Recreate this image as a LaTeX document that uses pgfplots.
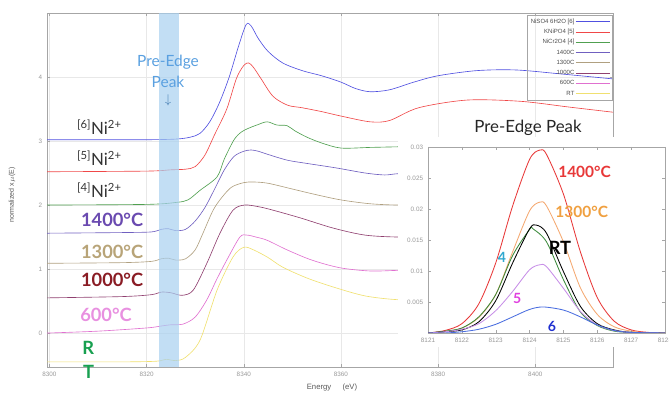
\documentclass[border=0pt]{standalone}
\usepackage{pgfplots}
\pgfplotsset{compat=1.18}
\usepackage{fontspec}
\setmainfont{Liberation Sans}
\newfontfamily\lato{Lato}
\definecolor{cSix}{HTML}{5050E0}
\definecolor{cFive}{HTML}{F04848}
\definecolor{cFour}{HTML}{50A050}
\definecolor{cFourteen}{HTML}{7060C0}
\definecolor{cThirteen}{HTML}{B0A080}
\definecolor{cTen}{HTML}{904070}
\definecolor{cSixH}{HTML}{E070D0}
\definecolor{cRT}{HTML}{F0E070}
\definecolor{band}{HTML}{A8D0F0}
\definecolor{preblue}{HTML}{5AA0E0}
\definecolor{iRed}{HTML}{E83838}
\definecolor{iOrange}{HTML}{F5A870}
\definecolor{iGreen}{HTML}{3C8A3C}
\definecolor{iLav}{HTML}{C890E8}
\definecolor{iBlue}{HTML}{4A6EE0}
\definecolor{lPurple}{HTML}{6A4AB0}
\definecolor{lTan}{HTML}{B8A478}
\definecolor{lMaroon}{HTML}{8A1C24}
\definecolor{lPink}{HTML}{E890E0}
\definecolor{lGreen}{HTML}{18A050}
\definecolor{lOrange}{HTML}{F0A040}
\definecolor{lCyan}{HTML}{30A8D0}
\definecolor{lMag}{HTML}{E040E0}
\definecolor{lBlue}{HTML}{2030D0}
\begin{document}
\begin{tikzpicture}[x=1cm,y=1cm]
\begin{axis}[name=main, at={(1.175cm,0.675cm)}, anchor=south west, scale only axis,
  width=14.15cm, height=8.85cm, xmin=8299.5, xmax=8416, ymin=-0.53, ymax=5,
  xtick={8300,8320,8340,8360,8380,8400}, xticklabels={8300,8320,8340,8360,8380,8400},
  ytick={0,1,2,3,4}, yticklabels={0,1,2,3,4},
  tick label style={font=\fontsize{4.5}{5}\selectfont, text=gray!80},
  axis line style={gray!70}, tick style={gray!70}, major tick length=2pt,
  grid=major, grid style={gray!18, line width=0.3pt},
  every axis plot/.append style={line width=0.45pt, smooth},
  legend style={at={(1,0.994)}, anchor=north east, draw=gray!70, fill=none,
    font=\fontsize{4.3}{4.3}\selectfont, text=gray!60!black, row sep=2.3pt, inner sep=2pt,
    nodes={inner sep=0.6pt, text height=3pt, text depth=0.8pt},
    cells={anchor=east}},
  legend plot pos=right,
  legend image code/.code={\draw[#1] (0cm,0cm) -- (0.85cm,0cm);},
]
\addplot[cSix] coordinates {(8299.5,3.02)(8310,3.02)(8320,3.02)(8326,3.03)(8329,3.06)(8331,3.12)(8333,3.3)(8335,3.6)(8337,4.0)(8339,4.5)(8340.5,4.82)(8341.5,4.80)(8343,4.6)(8345,4.40)(8348,4.22)(8352,4.10)(8356,4.02)(8360,3.92)(8363,3.82)(8366,3.77)(8370,3.80)(8375,3.92)(8380,4.02)(8388,4.10)(8396,4.11)(8405,4.05)(8416,3.97)};
\addlegendentry{NiSO4 6H2O [6]}
\addplot[cFive] coordinates {(8299.5,2.52)(8320,2.53)(8325,2.55)(8328,2.56)(8330,2.6)(8332,2.78)(8334,3.1)(8336.5,3.5)(8338.5,3.98)(8340,4.18)(8341,4.22)(8342,4.15)(8343.5,3.98)(8346,3.70)(8349,3.56)(8352,3.52)(8356,3.46)(8360,3.39)(8366,3.30)(8370,3.32)(8376,3.52)(8386,3.64)(8397,3.62)(8407,3.53)(8416,3.45)};
\addlegendentry{KNiPO4 [5]}
\addplot[cFour] coordinates {(8299.5,2.0)(8320,2.01)(8326,2.04)(8328.5,2.08)(8331,2.23)(8334.5,2.44)(8336,2.72)(8338,3.02)(8339.5,3.14)(8341,3.20)(8342.7,3.25)(8344.8,3.30)(8346.8,3.25)(8348.9,3.24)(8350.5,3.16)(8353,3.06)(8356,2.97)(8360,2.89)(8366,2.90)(8372,2.91)(8380,2.92)};
\addlegendentry{NiCr2O4 [4]}
\addplot[cFourteen] coordinates {(8299.5,1.56)(8315,1.57)(8321,1.58)(8323,1.62)(8324.5,1.63)(8326,1.60)(8328,1.62)(8330,1.75)(8332,1.96)(8334,2.25)(8336,2.55)(8338,2.76)(8340,2.84)(8341.5,2.86)(8343,2.84)(8345,2.79)(8349,2.70)(8353,2.65)(8359,2.58)(8365,2.50)(8369,2.47)(8372,2.49)(8380,2.50)};
\addlegendentry{1400C}
\addplot[cThirteen] coordinates {(8299.5,1.09)(8315,1.10)(8321,1.12)(8323,1.16)(8324.5,1.17)(8326,1.14)(8328,1.16)(8330,1.30)(8331.6,1.56)(8333.7,1.92)(8335.5,2.12)(8337.5,2.28)(8340,2.35)(8342,2.36)(8345,2.34)(8350,2.25)(8355,2.16)(8360,2.08)(8366,2.02)(8372,2.00)(8380,2.01)};
\addlegendentry{1300C}
\addplot[cTen] coordinates {(8299.5,0.55)(8315,0.57)(8321,0.60)(8323,0.64)(8325,0.63)(8327.3,0.59)(8329.6,0.67)(8332.4,1.09)(8335.1,1.56)(8337.8,1.92)(8340.2,2.0)(8343.3,1.97)(8346,1.92)(8351.6,1.80)(8358.4,1.64)(8365,1.53)(8372,1.50)(8380,1.51)};
\addlegendentry{1000C}
\addplot[cSixH] coordinates {(8299.5,0.0)(8310,0.03)(8320,0.08)(8323,0.11)(8325,0.13)(8327.5,0.14)(8330,0.25)(8332.4,0.52)(8334.5,0.85)(8336.5,1.14)(8339.2,1.50)(8340.7,1.53)(8342.5,1.50)(8344.8,1.45)(8348.9,1.30)(8354,1.14)(8359.8,1.02)(8366,0.97)(8372,0.98)(8380,0.99)};
\addlegendentry{600C}
\addplot[cRT] coordinates {(8299.5,-0.45)(8315,-0.45)(8322,-0.44)(8324,-0.41)(8326,-0.43)(8328,-0.38)(8331,-0.11)(8334.5,0.67)(8337.8,1.19)(8340,1.34)(8342,1.30)(8345,1.18)(8348,1.03)(8353,0.86)(8358.4,0.72)(8365,0.58)(8372,0.52)(8380,0.52)};
\addlegendentry{RT}
\fill[band, fill opacity=0.7] (axis cs:8322.6,-0.53) rectangle (axis cs:8326.7,5);
\end{axis}
\fill[white] (9.95,1.175) rectangle (16.8,6.425);
\begin{axis}[name=inset, at={(10.7cm,1.525cm)}, anchor=south west, scale only axis,
  width=5.925cm, height=4.65cm, xmin=8121, xmax=8128, ymin=0, ymax=0.03,
  scaled y ticks=false, scaled x ticks=false,
  xtick={8121,8122,...,8128}, xticklabels={8121,8122,8123,8124,8125,8126,8127,8128},
  ytick={0.005,0.01,0.015,0.02,0.025,0.03}, yticklabels={0.005,0.01,0.015,0.02,0.025,0.03},
  tick label style={font=\fontsize{4.5}{5}\selectfont, text=gray!80},
  axis line style={gray!70}, tick style={gray!70}, major tick length=2pt,
  every axis plot/.append style={line width=0.6pt, smooth},
  axis background/.style={fill=white}]
\addplot[iRed] coordinates {(8121.0,0.0)(8121.5,0.0004)(8122.0,0.0015)(8122.5,0.0047)(8123.0,0.0113)(8123.5,0.0205)(8124.0,0.0280)(8124.3,0.0295)(8124.5,0.0288)(8125.0,0.0224)(8125.5,0.0131)(8126.0,0.0057)(8126.5,0.0019)(8127.0,0.0005)(8127.5,0.0001)(8128.0,0.0)};
\addplot[iOrange] coordinates {(8121.0,0.0)(8121.5,0.0002)(8122.0,0.0008)(8122.5,0.0025)(8123.0,0.0062)(8123.5,0.0131)(8124.0,0.0197)(8124.3,0.0211)(8124.5,0.0205)(8125.0,0.0147)(8125.5,0.0073)(8126.0,0.0030)(8126.5,0.0010)(8127.0,0.0003)(8127.5,0.0)(8128.0,0.0)};
\addplot[iGreen] coordinates {(8121.0,0.0)(8121.5,0.0003)(8122.0,0.0008)(8122.5,0.0026)(8123.0,0.0062)(8123.5,0.0125)(8124.0,0.0167)(8124.1,0.0168)(8124.5,0.0147)(8125.0,0.0086)(8125.5,0.0034)(8126.0,0.0012)(8126.5,0.0003)(8127.0,0.0001)(8128.0,0.0)};
\addplot[black] coordinates {(8121.0,0.0)(8121.5,0.0002)(8122.0,0.0005)(8122.5,0.0018)(8123.0,0.0052)(8123.5,0.0113)(8124.0,0.0168)(8124.2,0.0174)(8124.5,0.0161)(8125.0,0.0099)(8125.5,0.0043)(8126.0,0.0015)(8126.5,0.0005)(8127.0,0.0001)(8128.0,0.0)};
\addplot[iLav] coordinates {(8121.0,0.0)(8121.5,0.0002)(8122.0,0.0006)(8122.5,0.0015)(8123.0,0.0036)(8123.5,0.0067)(8124.0,0.0102)(8124.3,0.0110)(8124.5,0.0107)(8125.0,0.0072)(8125.5,0.0035)(8126.0,0.0013)(8126.5,0.0004)(8127.0,0.0001)(8128.0,0.0)};
\addplot[iBlue] coordinates {(8121.0,0.0)(8121.5,0.0)(8122.0,0.0002)(8122.5,0.0006)(8123.0,0.0014)(8123.5,0.0026)(8124.0,0.0038)(8124.4,0.0042)(8125.0,0.0037)(8125.5,0.0026)(8126.0,0.0013)(8126.5,0.0004)(8127.0,0.0001)(8128.0,0.0)};
\end{axis}
% axis titles
\node[rotate=90, font=\fontsize{5}{6}\selectfont, text=gray!70!black] at (0.3,4.975) {normalized x$\mu$(E)};
\node[font=\fontsize{5.5}{6}\selectfont, text=gray!70!black] at (8.3,0.15) {Energy\hspace{8pt}(eV)};
% pre-edge label
\node[font=\lato\fontsize{11}{12}\selectfont, text=preblue, align=center] at (4.2,8.3) {Pre-Edge};
\node[font=\lato\fontsize{11}{12}\selectfont, text=preblue] at (4.2,7.8) {Peak};
\node[font=\fontsize{9}{9}\selectfont, text=preblue!80!black] at (4.2,7.35) {$\downarrow$};
% left labels
\begin{scope}[every node/.style={anchor=west, inner sep=0pt}]
\node[font=\lato\fontsize{12}{12}\selectfont, text=black!80] at (1.92,6.675) {\textsuperscript{[6]}Ni\textsuperscript{2+}};
\node[font=\lato\fontsize{12}{12}\selectfont, text=black!80] at (1.92,5.90) {\textsuperscript{[5]}Ni\textsuperscript{2+}};
\node[font=\lato\fontsize{12}{12}\selectfont, text=black!80] at (1.92,5.10) {\textsuperscript{[4]}Ni\textsuperscript{2+}};
\node[font=\lato\bfseries\fontsize{13}{13}\selectfont, text=lPurple] at (2.02,4.35) {1400\textdegree C};
\node[font=\lato\bfseries\fontsize{13}{13}\selectfont, text=lTan] at (2.02,3.55) {1300\textdegree C};
\node[font=\lato\bfseries\fontsize{13}{13}\selectfont, text=lMaroon] at (2.02,2.85) {1000\textdegree C};
\node[font=\lato\bfseries\fontsize{13}{13}\selectfont, text=lPink] at (2.0,1.975) {600\textdegree C};
\node[font=\lato\bfseries\fontsize{13}{13}\selectfont, text=lGreen] at (2.05,1.15) {R};
\node[font=\lato\bfseries\fontsize{13}{13}\selectfont, text=lGreen] at (2.07,0.55) {T};
\end{scope}
% inset labels
\node[font=\lato\fontsize{12}{12}\selectfont, text=black!85] at (13.2,6.65) {Pre-Edge Peak};
\node[anchor=west, inner sep=0pt, font=\lato\bfseries\fontsize{11}{11}\selectfont, text=iRed] at (13.95,5.55) {1400\textdegree C};
\node[anchor=west, inner sep=0pt, font=\lato\bfseries\fontsize{11}{11}\selectfont, text=lOrange] at (13.88,4.55) {1300\textdegree C};
\node[font=\lato\bfseries\fontsize{13}{13}\selectfont, text=black] at (14.0,3.65) {RT};
\node[font=\lato\bfseries\fontsize{10}{10}\selectfont, text=lCyan] at (12.55,3.42) {4};
\node[font=\lato\bfseries\fontsize{10}{10}\selectfont, text=lMag] at (12.93,2.4) {5};
\node[font=\lato\bfseries\fontsize{10}{10}\selectfont, text=lBlue] at (13.8,1.68) {6};
\pgfresetboundingbox
\path[use as bounding box] (0,0) rectangle (16.725,9.85);
\end{tikzpicture}
\end{document}
